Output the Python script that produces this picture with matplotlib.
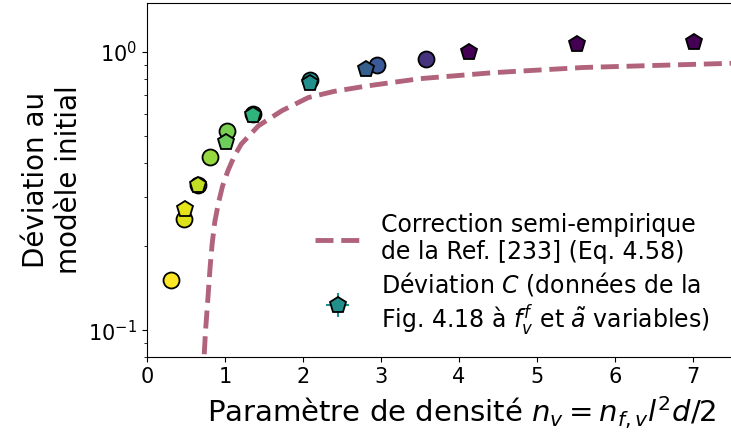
import matplotlib
matplotlib.use("Agg")
import matplotlib.pyplot as plt

curve_n = [0.735, 0.75, 0.786, 0.81, 0.837, 0.87, 0.914, 0.97, 1.04, 1.12, 1.21, 1.43,
           1.73, 2.07, 2.4, 2.82, 3.5, 4.44, 5.6, 7.5]
curve_dev = [0.082, 0.098, 0.135, 0.168, 0.205, 0.245, 0.284, 0.330, 0.375, 0.422, 0.467,
             0.543, 0.615, 0.686, 0.722, 0.755, 0.802, 0.843, 0.880, 0.911]

# circles
circ_n = [0.31, 0.48, 0.65, 0.81, 1.03, 1.355, 2.09, 2.95, 3.58]
circ_dev = [0.152, 0.251, 0.334, 0.418, 0.518, 0.601, 0.796, 0.898, 0.946]
circ_col = ["#fde725", "#dde318", "#c2df23", "#95d840", "#7ad151", "#2fb47c",
            "#21908d", "#3b5a9a", "#46337e"]

# pentagons (Déviation C)
pent_n = [0.49, 0.66, 1.01, 1.36, 2.09, 2.81, 4.13, 5.52, 7.01]
pent_dev = [0.272, 0.334, 0.473, 0.595, 0.776, 0.872, 1.00, 1.065, 1.086]
pent_col = ["#e5e419", "#c2df23", "#6ccd5a", "#2fb47c", "#21908d", "#355f8d",
            "#440154", "#440154", "#440154"]
LEGEND_IDX = 4

fig = plt.figure(figsize=(7.31, 4.34), dpi=100)
ax = fig.add_axes([0.201, 0.177, 0.80, 0.816])

ax.plot(curve_n, curve_dev, "--", color="#b0637a", lw=3.5,
        label="Correction semi-empirique\nde la Ref. [233] (Eq. 4.58)")

for i, (x, y, c) in enumerate(zip(pent_n, pent_dev, pent_col)):
    ax.errorbar(x, y, xerr=0, yerr=0, fmt="p", ms=12, mfc=c, mec="k", mew=1.3,
                ecolor=c, elinewidth=1.5,
                label=("Déviation $C$ (données de la\nFig. 4.18 à $f_v^f$ et $\\tilde{a}$ variables)"
                       if i == LEGEND_IDX else None))

for x, y, c in zip(circ_n, circ_dev, circ_col):
    ax.plot(x, y, "o", ms=11.5, mfc=c, mec="k", mew=1.3, zorder=1.9)

ax.set_yscale("log")
ax.set_xlim(0, 7.5)
ax.set_ylim(0.08, 1.5)
ax.set_xticks(range(8))
ax.tick_params(labelsize=15)
ax.set_xlabel("Paramètre de densité $n_v = n_{f,v} l^2 d/2$", fontsize=21)
ax.xaxis.set_label_coords(0.538, -0.105)
ax.set_ylabel("Déviation au\nmodèle initial", fontsize=20)
ax.legend(loc="lower right", frameon=False, fontsize=17, handlelength=1.9,
          labelspacing=0.22, borderaxespad=0.4, handletextpad=0.9,
          bbox_to_anchor=(0.995, 0.0))

fig.savefig("out.png", dpi=100)
